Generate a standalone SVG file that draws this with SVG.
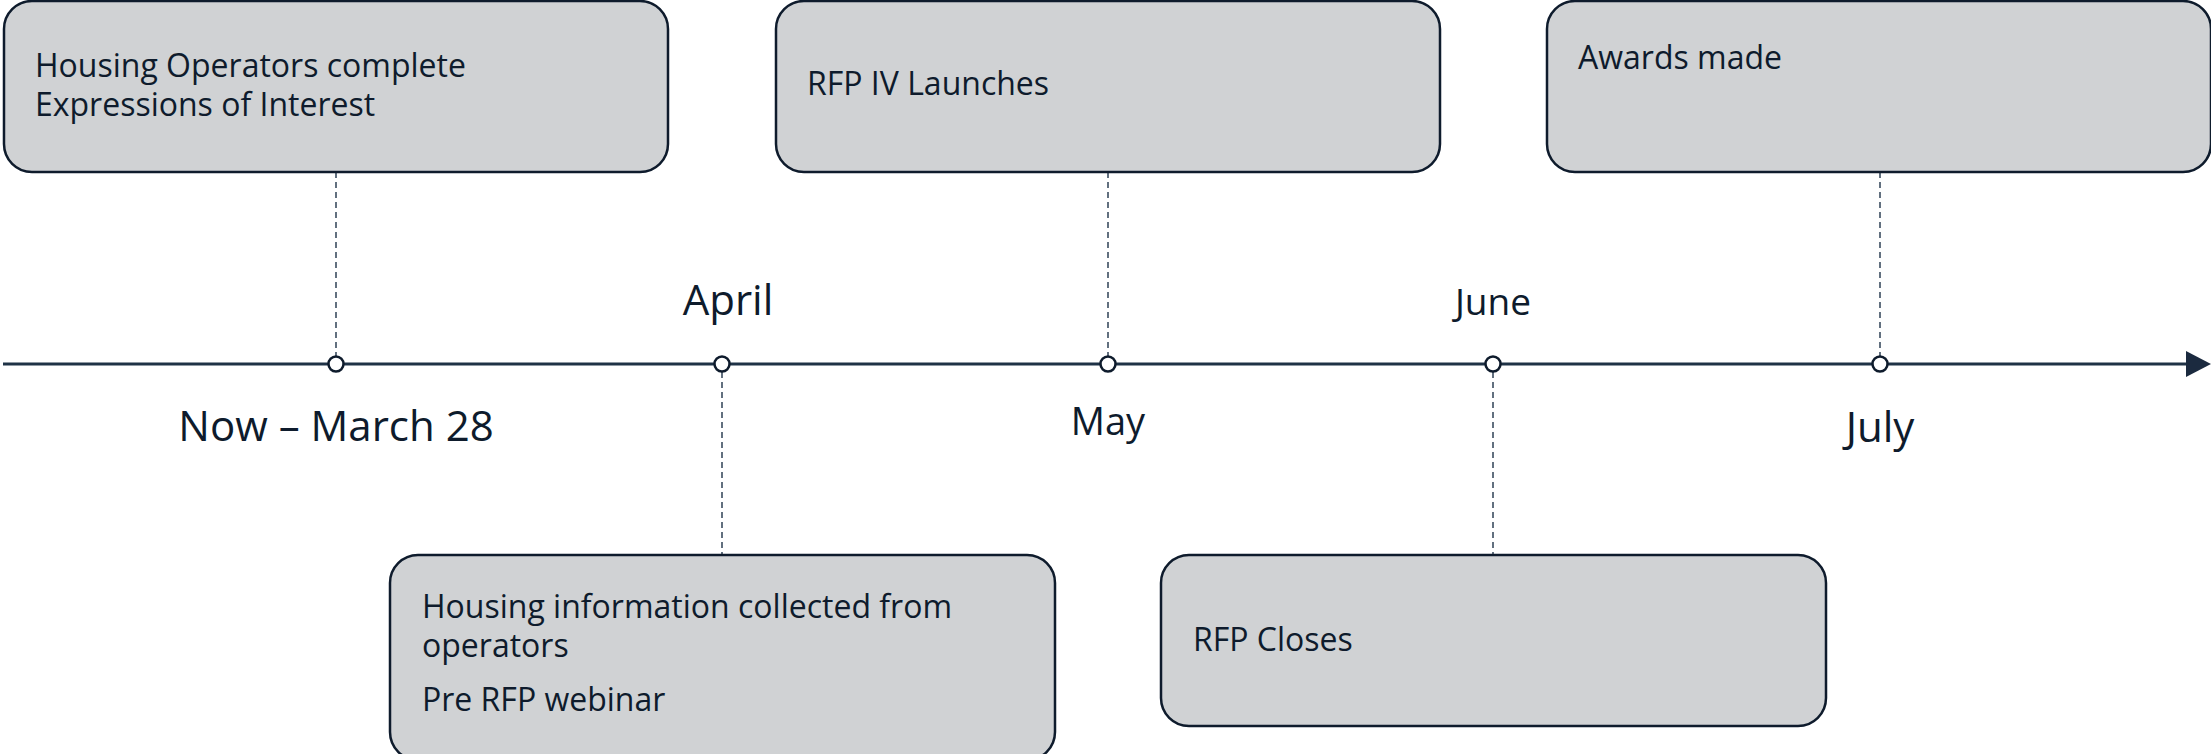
<svg xmlns="http://www.w3.org/2000/svg" width="2211" height="754" viewBox="0 0 2211 754">
<style>
.box{fill:#D0D2D4;stroke:#0E1B2C;stroke-width:2.5}
.t{font-family:"Open Sans","Noto Sans",sans-serif;font-size:32px;fill:#0E1B2C}
.lab{font-family:"Open Sans","Noto Sans",sans-serif;fill:#0E1B2C;text-anchor:middle}
.dash{stroke:#2F4256;stroke-width:1.5;stroke-dasharray:6 4;fill:none}
.axis{stroke:#1F3246;stroke-width:3;fill:none}
.dot{fill:#fff;stroke:#0E1B2C;stroke-width:2.5}
</style>
<rect width="2211" height="754" fill="#fff"/>
<g id="connectors">
<line class="dash" x1="336" y1="172" x2="336" y2="356"/>
<line class="dash" x1="722" y1="372" x2="722" y2="554"/>
<line class="dash" x1="1108" y1="172" x2="1108" y2="356"/>
<line class="dash" x1="1493" y1="372" x2="1493" y2="554"/>
<line class="dash" x1="1880" y1="172" x2="1880" y2="356"/>
<line class="axis" x1="3" y1="364" x2="2190" y2="364"/>
<polygon points="2186,351 2211,364 2186,377" fill="#1B2A3F"/>
<circle class="dot" cx="336" cy="364" r="7.5"/>
<circle class="dot" cx="722" cy="364" r="7.5"/>
<circle class="dot" cx="1108" cy="364" r="7.5"/>
<circle class="dot" cx="1493" cy="364" r="7.5"/>
<circle class="dot" cx="1880" cy="364" r="7.5"/>
</g>
<g id="labels">
<text class="lab" x="336" y="441" font-size="42">Now – March 28</text>
<text class="lab" x="728" y="315" font-size="42">April</text>
<text class="lab" x="1108" y="435" font-size="38">May</text>
<text class="lab" x="1493" y="315" font-size="37">June</text>
<text class="lab" x="1880" y="442" font-size="42">July</text>
</g>
<g id="node-eoi">
<rect class="box" x="4" y="1" width="664" height="171" rx="28"/>
<text class="t" x="35" y="77">Housing Operators complete</text>
<text class="t" x="35" y="116">Expressions of Interest</text>
</g>
<g id="node-launch">
<rect class="box" x="776" y="1" width="664" height="171" rx="28"/>
<text class="t" x="807" y="95">RFP IV Launches</text>
</g>
<g id="node-awards">
<rect class="box" x="1547" y="1" width="664" height="171" rx="28"/>
<text class="t" x="1578" y="69">Awards made</text>
</g>
<g id="node-info">
<rect class="box" x="390" y="555" width="665" height="205" rx="28"/>
<text class="t" x="422" y="618">Housing information collected from</text>
<text class="t" x="422" y="657">operators</text>
<text class="t" x="422" y="711">Pre RFP webinar</text>
</g>
<g id="node-closes">
<rect class="box" x="1161" y="555" width="665" height="171" rx="28"/>
<text class="t" x="1193" y="651">RFP Closes</text>
</g>
</svg>
